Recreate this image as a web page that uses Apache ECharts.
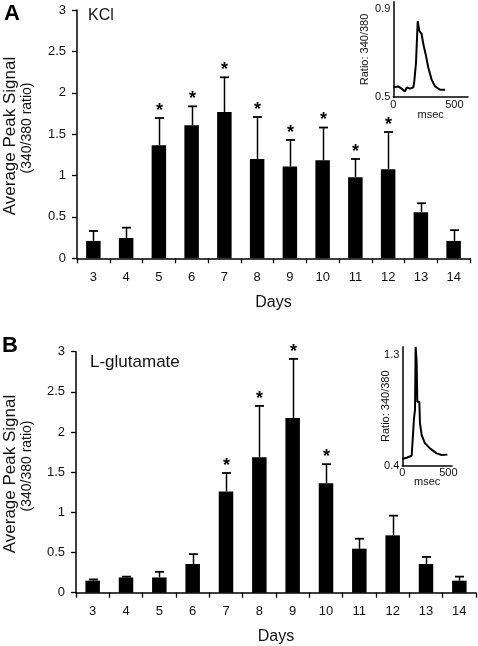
<!DOCTYPE html>
<html>
<head>
<meta charset="utf-8">
<script src="https://cdn.jsdelivr.net/npm/echarts@6/dist/echarts.min.js"></script>
<style>
html,body{margin:0;padding:0;background:#fff;}
#chart{width:478px;height:646px;}
</style>
</head>
<body>
<div id="chart"></div>
<script>
// ---- data ----
const days = ['3','4','5','6','7','8','9','10','11','12','13','14'];
// Panel A: KCl
const kclMean   = [0.21, 0.245, 1.365, 1.607, 1.768, 1.20, 1.11, 1.184, 0.98, 1.075, 0.556, 0.21];
const kclErrTop = [0.33, 0.37, 1.695, 1.836, 2.187, 1.707, 1.43, 1.58, 1.20, 1.526, 0.665, 0.34];
const kclSig    = [0, 0, 1, 1, 1, 1, 1, 1, 1, 1, 0, 0];
// Panel B: L-glutamate
const gluMean   = [0.15, 0.19, 0.19, 0.357, 1.26, 1.686, 2.175, 1.362, 0.548, 0.714, 0.357, 0.15];
const gluErrTop = [0.165, 0.20, 0.26, 0.48, 1.49, 2.325, 2.91, 1.60, 0.672, 0.959, 0.445, 0.20];
const gluSig    = [0, 0, 0, 0, 1, 1, 1, 1, 0, 0, 0, 0];
// Inset traces
const kclMs    = [0, 41, 68, 96, 110, 137, 164, 172, 186, 200, 213, 232, 246, 265, 287, 314, 342, 383, 424];
const kclRatio = [0.545, 0.549, 0.539, 0.526, 0.545, 0.539, 0.545, 0.572, 0.657, 0.846, 0.803, 0.788, 0.742, 0.696, 0.634, 0.58, 0.549, 0.534, 0.534];
const gluMs    = [0, 47, 102, 120, 127, 138, 145, 156, 163, 185, 192, 210, 246, 301, 373, 428, 490];
const gluRatio = [0.454, 0.465, 0.481, 0.486, 0.785, 0.853, 1.367, 1.245, 0.92, 0.92, 0.745, 0.65, 0.582, 0.541, 0.50, 0.487, 0.49];

const FONT = '"Liberation Sans", Arial, Helvetica, sans-serif';
const INK = '#111';

function zip(a, b) { return a.map((v, i) => [v, b[i]]); }

function errSeries(gridIdx, mean, top, sig) {
  return {
    type: 'custom',
    xAxisIndex: gridIdx, yAxisIndex: gridIdx,
    silent: true,
    z: 5,
    data: mean.map((m, i) => [i, m, top[i], sig[i]]),
    renderItem: function (params, api) {
      const p0 = api.coord([api.value(0), api.value(1)]);
      const p1 = api.coord([api.value(0), api.value(2)]);
      const x = Math.round(p0[0]) + 0.5;
      const children = [
        { type: 'line', shape: { x1: x, y1: p0[1], x2: x, y2: p1[1] }, style: { stroke: '#000', lineWidth: 1.5 } },
        { type: 'line', shape: { x1: x - 4.5, y1: p1[1], x2: x + 4.5, y2: p1[1] }, style: { stroke: '#000', lineWidth: 1.8 } }
      ];
      if (api.value(3)) {
        children.push({ type: 'text', x: x, y: p1[1] - 7, style: { text: '*', font: 'bold 18px ' + FONT, fill: '#000', align: 'center', verticalAlign: 'middle' } });
      }
      return { type: 'group', children: children };
    }
  };
}

function mainX(gridIdx, margin) {
  return {
    type: 'category', gridIndex: gridIdx, data: days, boundaryGap: true,
    axisLine: { lineStyle: { color: '#000', width: 1.5 } },
    axisTick: { show: true, alignWithLabel: false, length: 5, lineStyle: { color: '#000', width: 1.3 } },
    axisLabel: { color: INK, fontSize: 13, fontFamily: FONT, margin: margin, interval: 0 },
    name: 'Days', nameLocation: 'middle', nameGap: 36, nameMoveOverlap: false,
    nameTextStyle: { color: INK, fontSize: 16, fontFamily: FONT },
    splitLine: { show: false }
  };
}
function mainY(gridIdx) {
  return {
    type: 'value', gridIndex: gridIdx, min: 0, max: 3, interval: 0.5,
    axisLine: { show: true, lineStyle: { color: '#000', width: 1.5 } },
    axisTick: { show: true, length: 5, lineStyle: { color: '#000', width: 1.3 } },
    axisLabel: { color: INK, fontSize: 13, fontFamily: FONT, margin: 11 },
    splitLine: { show: false }
  };
}
function insetX(gridIdx, max, gap) {
  return {
    type: 'value', gridIndex: gridIdx, min: 0, max: max, interval: 500,
    axisLine: { lineStyle: { color: '#000', width: 1.5 } },
    axisTick: { show: false },
    axisLabel: { color: INK, fontSize: 11, fontFamily: FONT, margin: 2, showMaxLabel: false,
      formatter: v => (v === 0 || v === 500) ? String(v) : '' },
    name: 'msec', nameLocation: 'middle', nameGap: gap, nameMoveOverlap: false,
    nameTextStyle: { color: INK, fontSize: 11, fontFamily: FONT },
    splitLine: { show: false }
  };
}
function insetY(gridIdx, min, max, interval, gap) {
  return {
    type: 'value', gridIndex: gridIdx, min: min, max: max, interval: interval,
    axisLine: { show: true, lineStyle: { color: '#000', width: 1.5 } },
    axisTick: { show: false },
    axisLabel: { color: INK, fontSize: 11, fontFamily: FONT, margin: 3, showMaxLabel: false,
      formatter: v => (Math.abs(v - min) < 1e-6 || Math.abs(v - (min + interval)) < 1e-6) ? v.toFixed(1) : '' },
    name: 'Ratio: 340/380', nameLocation: 'middle', nameGap: gap, nameRotate: 90, nameMoveOverlap: false,
    nameTextStyle: { color: INK, fontSize: 11, fontFamily: FONT },
    splitLine: { show: false }
  };
}

const chart = echarts.init(document.getElementById('chart'), null, { renderer: 'canvas' });
const option = {
  backgroundColor: '#fff',
  animation: false,
  grid: [
    { left: 77, top: 10, width: 393, height: 248.3, outerBoundsMode: 'none' },
    { left: 76, top: 351.7, width: 400, height: 241, outerBoundsMode: 'none' },
    { left: 393.3, top: 1.7, width: 74.7, height: 95.5, outerBoundsMode: 'none' },
    { left: 402.3, top: 346.7, width: 49.7, height: 119, outerBoundsMode: 'none' }
  ],
  xAxis: [ mainX(0, 13), mainX(1, 12), insetX(2, 612, 12), insetX(3, 540, 11) ],
  yAxis: [ mainY(0), mainY(1), insetY(2, 0.5, 0.935, 0.4, 23), insetY(3, 0.4, 1.367, 0.9, 11) ],
  graphic: [
    { type: 'text', x: 12, y: 14, style: { text: 'A', font: 'bold 22px ' + FONT, fill: '#000', align: 'center', verticalAlign: 'middle' } },
    { type: 'text', x: 10, y: 346, style: { text: 'B', font: 'bold 22px ' + FONT, fill: '#000', align: 'center', verticalAlign: 'middle' } },
    { type: 'text', x: 88, y: 16, style: { text: 'KCl', font: '16px ' + FONT, fill: INK, align: 'left', verticalAlign: 'middle' } },
    { type: 'text', x: 90, y: 362, style: { text: 'L-glutamate', font: '17px ' + FONT, fill: INK, align: 'left', verticalAlign: 'middle' } },
    { type: 'text', x: 10.5, y: 136, rotation: Math.PI / 2, style: { text: 'Average Peak Signal', font: '17px ' + FONT, fill: INK, align: 'center', verticalAlign: 'middle' } },
    { type: 'text', x: 27.5, y: 128, rotation: Math.PI / 2, style: { text: '(340/380 ratio)', font: '14px ' + FONT, fill: INK, align: 'center', verticalAlign: 'middle' } },
    { type: 'text', x: 10.5, y: 474, rotation: Math.PI / 2, style: { text: 'Average Peak Signal', font: '17px ' + FONT, fill: INK, align: 'center', verticalAlign: 'middle' } },
    { type: 'text', x: 27.5, y: 466, rotation: Math.PI / 2, style: { text: '(340/380 ratio)', font: '14px ' + FONT, fill: INK, align: 'center', verticalAlign: 'middle' } }
  ],
  series: [
    { type: 'bar', xAxisIndex: 0, yAxisIndex: 0, data: kclMean, barWidth: 14.5, itemStyle: { color: '#000' }, silent: true },
    errSeries(0, kclMean, kclErrTop, kclSig),
    { type: 'bar', xAxisIndex: 1, yAxisIndex: 1, data: gluMean, barWidth: 14.5, itemStyle: { color: '#000' }, silent: true },
    errSeries(1, gluMean, gluErrTop, gluSig),
    { type: 'line', xAxisIndex: 2, yAxisIndex: 2, data: zip(kclMs, kclRatio), showSymbol: false, lineStyle: { color: '#000', width: 2 }, silent: true },
    { type: 'line', xAxisIndex: 3, yAxisIndex: 3, data: zip(gluMs, gluRatio), showSymbol: false, lineStyle: { color: '#000', width: 2 }, silent: true, clip: true }
  ]
};
chart.setOption(option);
</script>
</body>
</html>
